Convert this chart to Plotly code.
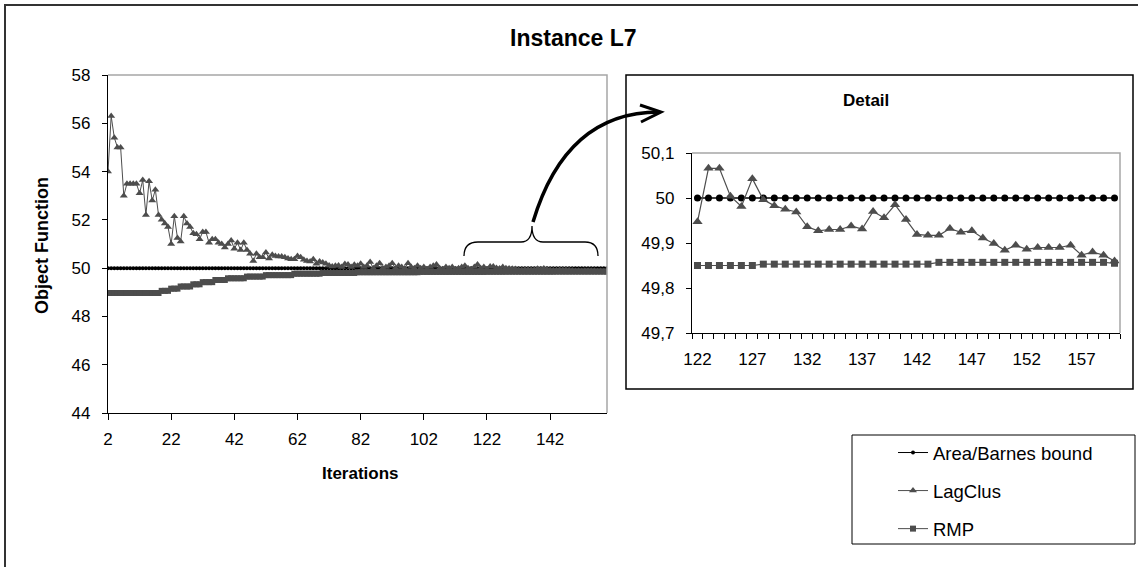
import plotly.graph_objects as go

W, H = 1138, 567

# ---------------- data ----------------
iterations = list(range(2, 161))

lagclus = [
    54.0, 56.3, 55.4, 55.0, 55.0, 53.0, 53.5, 53.5, 53.5, 53.5,      # 2-11
    53.1, 53.65, 52.2, 53.6, 52.8, 53.25, 52.2, 52.0, 51.85, 51.7,   # 12-21
    51.0, 52.15, 51.25, 51.1, 52.15, 51.85, 51.7, 51.45, 51.4, 51.2, # 22-31
    51.5, 51.5, 51.05, 51.2, 51.2, 51.05, 51.0, 50.85, 51.0, 51.15,  # 32-41
    50.8, 51.05, 50.75, 51.05, 50.75, 50.6, 50.3, 50.6, 50.45, 50.45,# 42-51
    50.65, 50.4, 50.55, 50.5, 50.48, 50.48, 50.45, 50.4, 50.37, 50.37,# 52-61
    50.5, 50.45, 50.35, 50.3, 50.28, 50.37, 50.18, 50.28, 50.23, 50.18,# 62-71
    50.11, 50.07, 50.1, 50.11, 50.05, 50.17, 50.15, 50.05, 50.14, 50.1,# 72-81
    50.18, 50.05, 50.1, 50.25, 50.0, 50.1, 50.2, 50.0, 50.05, 50.1,  # 82-91
    50.2, 50.0, 50.1, 50.05, 50.0, 50.2, 50.05, 50.0, 50.1, 50.0,    # 92-101
    50.05, 49.95, 50.05, 50.1, 50.15, 50.0, 49.95, 50.05, 50.0, 50.05,# 102-111
    49.95, 50.0, 50.05, 50.1, 50.0, 49.95, 50.05, 50.15, 50.0, 50.05,# 112-121
    49.947, 50.066, 50.066, 50.004, 49.981, 50.043, 49.996, 49.983, 49.975, 49.969,  # 122-131
    49.936, 49.927, 49.930, 49.930, 49.938, 49.931, 49.970, 49.956, 49.985, 49.952,  # 132-141
    49.919, 49.917, 49.917, 49.932, 49.924, 49.927, 49.911, 49.899, 49.884, 49.895,  # 142-151
    49.886, 49.890, 49.890, 49.890, 49.895, 49.873, 49.880, 49.873, 49.860,          # 152-160
]

rmp = [
    48.97, 48.97, 48.97, 48.97, 48.97, 48.97, 48.97, 48.97, 48.97, 48.97,  # 2-11
    48.97, 48.97, 48.97, 48.97, 48.97, 48.97, 48.97, 49.06, 49.06, 49.06,  # 12-21
    49.15, 49.15, 49.15, 49.24, 49.24, 49.24, 49.24, 49.33, 49.33, 49.33,  # 22-31
    49.42, 49.42, 49.42, 49.42, 49.51, 49.51, 49.51, 49.51, 49.58, 49.58,  # 32-41
    49.58, 49.58, 49.58, 49.58, 49.65, 49.65, 49.65, 49.65, 49.65, 49.65,  # 42-51
    49.71, 49.71, 49.71, 49.71, 49.71, 49.71, 49.71, 49.71, 49.71, 49.77,  # 52-61
    49.77, 49.77, 49.77, 49.77, 49.77, 49.77, 49.77, 49.77, 49.80, 49.80,  # 62-71
    49.80, 49.80, 49.80, 49.80, 49.80, 49.80, 49.80, 49.80, 49.80, 49.83,  # 72-81
    49.83, 49.83, 49.83, 49.83, 49.83, 49.83, 49.83, 49.83, 49.83, 49.83,  # 82-91
    49.83, 49.83, 49.83, 49.83, 49.83, 49.83, 49.83, 49.83, 49.83, 49.845, # 92-101
    49.845, 49.845, 49.845, 49.845, 49.845, 49.845, 49.845, 49.845, 49.845, 49.845,  # 102-111
    49.845, 49.845, 49.845, 49.845, 49.845, 49.845, 49.845, 49.845, 49.845, 49.845,  # 112-121
    49.850, 49.850, 49.850, 49.850, 49.850, 49.850, 49.853, 49.853, 49.853, 49.853,  # 122-131
    49.853, 49.853, 49.853, 49.853, 49.853, 49.853, 49.853, 49.853, 49.853, 49.853,  # 132-141
    49.853, 49.853, 49.857, 49.857, 49.857, 49.857, 49.857, 49.857, 49.857, 49.857,  # 142-151
    49.857, 49.857, 49.857, 49.857, 49.857, 49.857, 49.857, 49.857, 49.855,          # 152-160
]

area_barnes = [
    50, 50, 50, 50, 50, 50, 50, 50, 50, 50, 50, 50, 50, 50, 50, 50, 50, 50, 50, 50,
    50, 50, 50, 50, 50, 50, 50, 50, 50, 50, 50, 50, 50, 50, 50, 50, 50, 50, 50, 50,
    50, 50, 50, 50, 50, 50, 50, 50, 50, 50, 50, 50, 50, 50, 50, 50, 50, 50, 50, 50,
    50, 50, 50, 50, 50, 50, 50, 50, 50, 50, 50, 50, 50, 50, 50, 50, 50, 50, 50, 50,
    50, 50, 50, 50, 50, 50, 50, 50, 50, 50, 50, 50, 50, 50, 50, 50, 50, 50, 50, 50,
    50, 50, 50, 50, 50, 50, 50, 50, 50, 50, 50, 50, 50, 50, 50, 50, 50, 50, 50, 50,
    50, 50, 50, 50, 50, 50, 50, 50, 50, 50, 50, 50, 50, 50, 50, 50, 50, 50, 50, 50,
    50, 50, 50, 50, 50, 50, 50, 50, 50, 50, 50, 50, 50, 50, 50, 50, 50, 50, 50,
]

main_xticks = [2, 22, 42, 62, 82, 102, 122, 142]
main_yticks = [44, 46, 48, 50, 52, 54, 56, 58]
detail_start = 122
detail_xticks = [122, 127, 132, 137, 142, 147, 152, 157]
detail_yticks = [49.7, 49.8, 49.9, 50.0, 50.1]
detail_ylabels = ["49,7", "49,8", "49,9", "50", "50,1"]

# ---------------- helpers ----------------
def px(x):
    return x / W

def py(y):
    return 1 - y / H

FONT = "Liberation Sans, Arial, sans-serif"
GRAY = "#4d4d4d"

d0 = iterations.index(detail_start)
det_x = iterations[d0:]

fig = go.Figure()

# main chart traces
fig.add_trace(go.Scatter(x=iterations, y=area_barnes, name="Area/Barnes bound", mode="lines+markers",
                         legendgroup="a",
                         line=dict(color="black", width=1), marker=dict(symbol="circle", size=4, color="black"),
                         xaxis="x", yaxis="y"))
fig.add_trace(go.Scatter(x=iterations, y=lagclus, name="LagClus", mode="lines+markers",
                         legendgroup="b",
                         line=dict(color=GRAY, width=1), marker=dict(symbol="triangle-up", size=7, color=GRAY),
                         xaxis="x", yaxis="y"))
fig.add_trace(go.Scatter(x=iterations, y=rmp, name="RMP", mode="lines+markers",
                         legendgroup="c",
                         line=dict(color=GRAY, width=1), marker=dict(symbol="square", size=6, color=GRAY),
                         xaxis="x", yaxis="y"))

# detail traces
fig.add_trace(go.Scatter(x=det_x, y=area_barnes[d0:], mode="lines+markers", showlegend=False,
                         line=dict(color="black", width=1.5), marker=dict(symbol="circle", size=7, color="black"),
                         xaxis="x2", yaxis="y2"))
fig.add_trace(go.Scatter(x=det_x, y=lagclus[d0:], mode="lines+markers", showlegend=False,
                         line=dict(color=GRAY, width=1.2), marker=dict(symbol="triangle-up", size=9, color=GRAY),
                         xaxis="x2", yaxis="y2"))
fig.add_trace(go.Scatter(x=det_x, y=rmp[d0:], mode="lines+markers", showlegend=False,
                         line=dict(color=GRAY, width=1.2), marker=dict(symbol="square", size=7, color=GRAY),
                         xaxis="x2", yaxis="y2"))

tickfont = dict(family=FONT, size=17, color="black")

shapes = [
    # outer frame
    dict(type="rect", xref="paper", yref="paper", x0=px(5), x1=px(1150), y0=py(5), y1=py(580),
         line=dict(color="#333333", width=2)),
    # main plot area border (gray top & right)
    dict(type="path", xref="paper", yref="paper",
         path=f"M {px(108)},{py(75)} L {px(607)},{py(75)} L {px(607)},{py(413)}",
         line=dict(color="#a6a6a6", width=1.5)),
    # detail box
    dict(type="rect", xref="paper", yref="paper", x0=px(626), x1=px(1133), y0=py(75), y1=py(389),
         line=dict(color="black", width=1.5)),
    # detail plot area border
    dict(type="path", xref="paper", yref="paper",
         path=f"M {px(692)},{py(153)} L {px(1120)},{py(153)} L {px(1120)},{py(333)}",
         line=dict(color="#a6a6a6", width=1.5)),
    # legend box
    dict(type="rect", xref="paper", yref="paper", x0=px(852), x1=px(1135), y0=py(435), y1=py(544),
         line=dict(color="black", width=1)),
    # bracket
    dict(type="path", xref="paper", yref="paper",
         path=(f"M {px(464)},{py(256)} Q {px(464)},{py(242)} {px(478)},{py(242)} "
               f"L {px(521)},{py(242)} Q {px(532)},{py(242)} {px(532)},{py(226)} "
               f"Q {px(532)},{py(242)} {px(543)},{py(242)} "
               f"L {px(585)},{py(242)} Q {px(598)},{py(242)} {px(598)},{py(256)}"),
         line=dict(color="black", width=1.3)),
    # arrow curve
    dict(type="path", xref="paper", yref="paper",
         path=f"M {px(533)},{py(222)} Q {px(566)},{py(112)} {px(659)},{py(112)}",
         line=dict(color="black", width=3.5)),
    # arrow head
    dict(type="path", xref="paper", yref="paper",
         path=f"M {px(640)},{py(105)} L {px(661)},{py(112)} L {px(641)},{py(122)}",
         line=dict(color="black", width=3)),
]

def label(text, x, y, size, angle=0):
    return dict(text=text, x=px(x), y=py(y), xref="paper", yref="paper", xanchor="center",
                yanchor="middle", showarrow=False, textangle=angle,
                font=dict(family=FONT, size=size, color="black"))

annotations = [
    label("<b>Instance L7</b>", 573, 38, 23),
    label("<b>Detail</b>", 866, 100, 17),
    label("<b>Object Function</b>", 42, 246, 18, -90),
    label("<b>Iterations</b>", 360, 473, 17),
]

fig.update_layout(
    width=W, height=H,
    margin=dict(l=0, r=0, t=0, b=0, pad=0, autoexpand=False),
    paper_bgcolor="white", plot_bgcolor="white",
    font=dict(family=FONT, color="black"),
    xaxis=dict(domain=[px(108), px(607)], range=[2, 160], tickmode="array", tickvals=main_xticks,
               ticks="outside", ticklen=6, tickcolor="black", showline=True, linecolor="black", linewidth=1.3,
               showgrid=False, zeroline=False, tickfont=tickfont, anchor="y", ticklabelstandoff=4),
    yaxis=dict(domain=[py(413), py(75)], range=[44, 58], tickmode="array", tickvals=main_yticks,
               ticks="outside", ticklen=5, tickcolor="black", showline=True, linecolor="black", linewidth=1.3,
               showgrid=False, zeroline=False, tickfont=tickfont, anchor="x", ticklabelstandoff=8),
    xaxis2=dict(domain=[px(692), px(1120)], range=[121.5, 160.5], tickmode="array", tickvals=detail_xticks,
                ticks="", showline=True, linecolor="black", linewidth=1.3,
                minor=dict(tick0=121.5, dtick=1, ticks="outside", ticklen=5, tickcolor="black", showgrid=False),
                showgrid=False, zeroline=False, tickfont=tickfont, anchor="y2", ticklabelstandoff=10),
    yaxis2=dict(domain=[py(333), py(153)], range=[49.7, 50.1], tickmode="array", tickvals=detail_yticks,
                ticktext=detail_ylabels, ticks="outside", ticklen=5, tickcolor="black", showline=True,
                linecolor="black", linewidth=1.3, showgrid=False, zeroline=False, tickfont=tickfont,
                anchor="x2", ticklabelstandoff=8),
    legend=dict(x=px(893), y=py(434), xanchor="left", yanchor="top", bgcolor="rgba(0,0,0,0)",
                borderwidth=0, font=dict(family=FONT, size=18.5, color="black"), tracegroupgap=11,
                traceorder="grouped", itemwidth=30),
    shapes=shapes,
    annotations=annotations,
)

fig.write_html("out.html", config={"displayModeBar": False},
               post_script="document.body.style.margin='0';document.body.style.overflow='hidden';")
